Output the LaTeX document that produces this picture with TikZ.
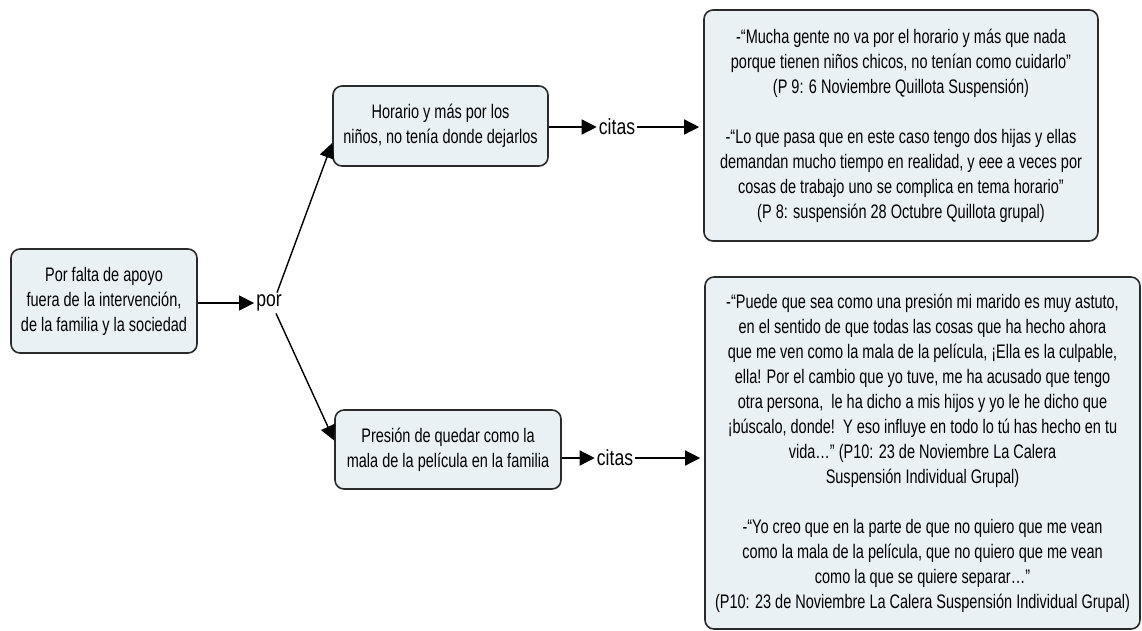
\documentclass[tikz,border=0pt]{standalone}
\usepackage{fontspec}
\setmainfont{Liberation Sans}[FakeStretch=0.74]
\newfontfamily\labelfont{Liberation Sans}[FakeStretch=0.8]
\usetikzlibrary{arrows.meta}
\definecolor{boxfill}{HTML}{EAF1F4}
\definecolor{boxline}{HTML}{2A2A2A}
\tikzset{
  box/.style={draw=boxline, line width=1.6pt, fill=boxfill, rounded corners=9pt,
    align=center, inner sep=0pt, font=\fontsize{19.6}{25}\selectfont},
  lbl/.style={inner sep=2pt, font=\labelfont\fontsize{22}{24}\selectfont},
  conn/.style={line width=1.4pt, -{Triangle[length=15pt,width=15pt]}}
}
\begin{document}
\begin{tikzpicture}[x=1pt,y=-1pt]
\useasboundingbox (0,0) rectangle (1142,630);
\fill[white] (0,0) rectangle (1142,630);

\node[box, minimum width=186pt, minimum height=104pt] (A) at (104,301)
  {Por falta de apoyo\\fuera de la intervención,\\de la familia y la sociedad};
\node[box, minimum width=215pt, minimum height=80pt] (B) at (440.5,126)
  {Horario y más por los\\niños, no tenía donde dejarlos};
\node[box, minimum width=226pt, minimum height=79pt] (C) at (448,449.5)
  {Presión de quedar como la\\mala de la película en la familia};
\node[box, minimum width=394pt, minimum height=231pt] (D) at (901,125.5)
  {-“Mucha gente no va por el horario y más que nada\\
   porque tienen niños chicos, no tenían como cuidarlo”\\
   (P 9: 6 Noviembre Quillota Suspensión)\\[25pt]
   -“Lo que pasa que en este caso tengo dos hijas y ellas\\
   demandan mucho tiempo en realidad, y eee a veces por\\
   cosas de trabajo uno se complica en tema horario”\\
   (P 8: suspensión 28 Octubre Quillota grupal)};
\node[box, minimum width=435pt, minimum height=352pt] (E) at (922.5,453)
  {-“Puede que sea como una presión mi marido es muy astuto,\\
   en el sentido de que todas las cosas que ha hecho ahora\\
   que me ven como la mala de la película, ¡Ella es la culpable,\\
   ella! Por el cambio que yo tuve, me ha acusado que tengo\\
   otra persona,\ \ le ha dicho a mis hijos y yo le he dicho que\\
   ¡búscalo, donde!\ \ Y eso influye en todo lo tú has hecho en tu\\
   vida…” (P10: 23 de Noviembre La Calera\\
   Suspensión Individual Grupal)\\[25pt]
   -“Yo creo que en la parte de que no quiero que me vean\\
   como la mala de la película, que no quiero que me vean\\
   como la que se quiere separar…”\\
   (P10: 23 de Noviembre La Calera Suspensión Individual Grupal)};

\node[lbl] (por) at (269,303) {por};
\node[lbl] (c1) at (617,127) {citas};
\node[lbl] (c2) at (615,458) {citas};

\draw[conn] (A.east |- por.center) -- (por.west);
\draw[conn] ([xshift=8pt]por.north) -- ([yshift=-17pt]B.west);
\draw[conn] ([xshift=7pt]por.south) -- ([yshift=9pt]C.west);
\draw[conn] (B.east |- c1.center) -- (c1.west);
\draw[conn, shorten >=4pt] (c1.east) -- (D.west |- c1.center);
\draw[conn] (C.east |- c2.center) -- (c2.west);
\draw[conn, shorten >=4pt] (c2.east) -- (E.west |- c2.center);
\end{tikzpicture}
\end{document}
